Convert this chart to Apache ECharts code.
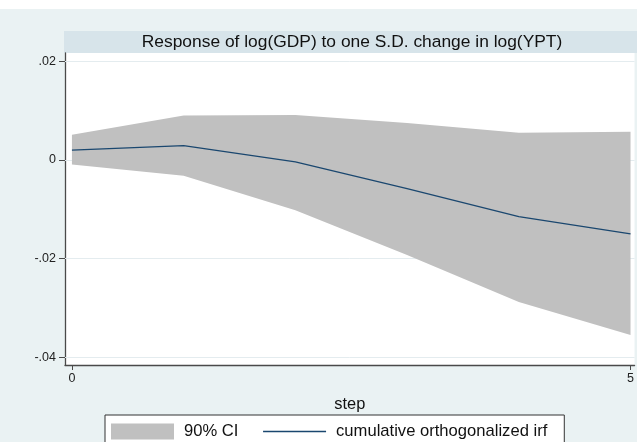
<!DOCTYPE html>
<html>
<head>
<meta charset="utf-8">
<script src="https://cdn.jsdelivr.net/npm/echarts@6/dist/echarts.min.js"></script>
<style>html,body{margin:0;padding:0;background:#fff;}#c{width:637px;height:442px;}</style>
</head>
<body>
<div id="c"></div>
<script>
const steps = [0, 1, 2, 3, 4, 5];
const irf = [0.0020, 0.0029, -0.0004, -0.0058, -0.0115, -0.0150];
const ciUpper = [0.0051, 0.0090, 0.0091, 0.0075, 0.0055, 0.0057];
const ciLower = [-0.0009, -0.0032, -0.0102, -0.0193, -0.0288, -0.0355];
const yTicks = [-0.04, -0.02, 0, 0.02];
const xTicks = [0, 5];
const titleText = 'Response of log(GDP) to one S.D. change in log(YPT)';
const xName = 'step';
const ciName = '90% CI';
const lineName = 'cumulative orthogonalized irf';

const FONT = 'Liberation Sans, Arial, Helvetica, sans-serif';
function fmtY(v) {
  if (Math.abs(v) < 1e-12) return '0';
  const s = String(Math.abs(v)).replace(/^0/, '');
  return (v < 0 ? '-' : '') + s;
}

const chart = echarts.init(document.getElementById('c'), null, {renderer: 'canvas'});
chart.setOption({
  backgroundColor: '#eaf2f3',
  animation: false,
  graphic: [
    {type: 'rect', shape: {x: 0, y: 0, width: 637, height: 9}, style: {fill: '#ffffff'}, z: -10},
    {type: 'rect', shape: {x: 64, y: 31, width: 573, height: 22}, style: {fill: '#d7e4ea'}, z: -10},
    {type: 'text', x: 352, y: 42, style: {text: titleText, fontFamily: FONT, fontSize: 17.4, fill: '#111', align: 'center', verticalAlign: 'middle'}}
  ],
  grid: {left: 65, top: 53, right: 0, bottom: 77, show: true, backgroundColor: '#ffffff', borderWidth: 0},
  xAxis: {
    type: 'value', min: -0.062, max: 5.036,
    name: xName, nameLocation: 'middle', nameGap: 31,
    nameTextStyle: {fontFamily: FONT, fontSize: 16.4, color: '#111'},
    axisLine: {show: true, onZero: false, lineStyle: {color: '#4a4a4a', width: 1.3}},
    axisTick: {show: true, length: 5, customValues: xTicks, lineStyle: {color: '#4a4a4a'}},
    axisLabel: {show: true, customValues: xTicks, margin: 7, fontFamily: FONT, fontSize: 12.5, color: '#222'},
    splitLine: {show: false}
  },
  yAxis: {
    type: 'value', min: -0.0416, max: 0.0217,
    axisLine: {show: true, onZero: false, lineStyle: {color: '#4a4a4a', width: 1.3}},
    axisTick: {show: true, length: 6, customValues: yTicks, lineStyle: {color: '#4a4a4a'}},
    axisLabel: {show: true, customValues: yTicks, margin: 9, fontFamily: FONT, fontSize: 12.5, color: '#222', formatter: fmtY},
    splitLine: {show: false}
  },
  legend: {
    left: 105, top: 415,
    data: [
      {name: ciName, icon: 'rect', itemStyle: {color: '#c0c0c0'}},
      {name: lineName, itemStyle: {opacity: 0}, lineStyle: {color: '#1a476f', width: 1.3}}
    ],
    itemWidth: 63, itemHeight: 16, itemGap: 24,
    padding: [8, 17, 8, 6],
    backgroundColor: '#ffffff', borderColor: '#333', borderWidth: 1, borderRadius: 0,
    textStyle: {fontFamily: FONT, fontSize: 16.6, color: '#111', padding: [0, 0, 0, 5]}
  },
  series: [
    {
      name: 'grid', type: 'line', data: [], z: 1, silent: true,
      markLine: {
        silent: true, symbol: 'none', label: {show: false}, z: 1,
        lineStyle: {color: '#e4ecef', width: 1, type: 'solid'},
        data: yTicks.map(v => ({yAxis: v}))
      }
    },
    {
      name: ciName, type: 'custom', z: 3,
      data: [[steps[0], ciLower[0]]],
      encode: {x: 0, y: 1},
      itemStyle: {color: '#c0c0c0'},
      renderItem: function (params, api) {
        const pts = [];
        for (let i = 0; i < steps.length; i++) pts.push(api.coord([steps[i], ciUpper[i]]));
        for (let i = steps.length - 1; i >= 0; i--) pts.push(api.coord([steps[i], ciLower[i]]));
        return {type: 'polygon', shape: {points: pts}, style: {fill: '#c0c0c0'}};
      }
    },
    {
      name: lineName, type: 'line', z: 4,
      data: steps.map((s, i) => [s, irf[i]]),
      symbol: 'none', showSymbol: false,
      lineStyle: {color: '#1a476f', width: 1.3},
      itemStyle: {color: '#1a476f'}
    }
  ]
});
</script>
</body>
</html>
